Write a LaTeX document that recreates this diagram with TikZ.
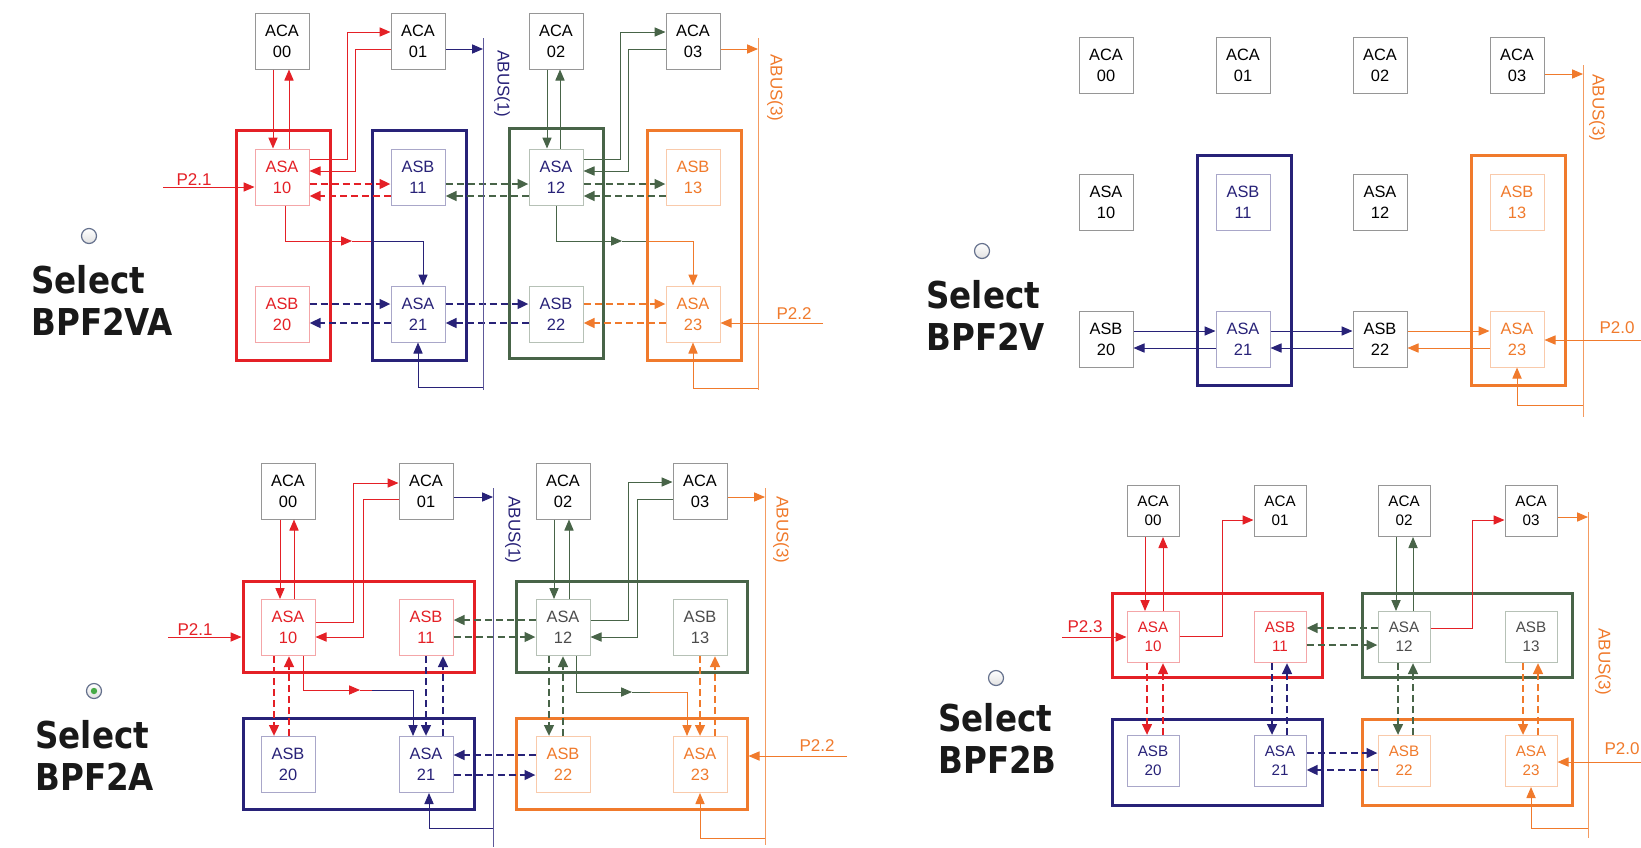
\documentclass[tikz,border=0pt]{standalone}
\usepackage{fontspec}
\setmainfont{Liberation Sans}
\newfontfamily\selfont[FakeStretch=0.88]{DejaVu Sans}
\usetikzlibrary{arrows.meta}

\definecolor{myred}{RGB}{228,32,38}
\definecolor{mynavy}{RGB}{40,34,120}
\definecolor{mygreen}{RGB}{72,100,72}
\definecolor{myorange}{RGB}{240,122,44}
\definecolor{boxgray}{RGB}{150,150,150}
\definecolor{radiogray}{RGB}{100,112,140}
\definecolor{radiogreen}{RGB}{70,170,70}

\tikzset{
  cell/.style={
    draw=boxgray,
    line width=0.5pt,
    fill=white,
    inner sep=0pt,
    minimum width=27pt,
    minimum height=28pt,
    align=center,
    font=\fontsize{8.2}{10.5}\selectfont
  },
  small cell/.style={
    cell,
    minimum width=26pt,
    minimum height=25.5pt,
    font=\fontsize{7.6}{9.6}\selectfont
  },
  tinted/.style={draw=#1!40, text=#1},
  group/.style={draw=#1, line width=1.5pt, inner sep=0pt},
  vgroup/.style={group=#1, minimum width=47pt, minimum height=115pt},
  hgroup/.style={group=#1, minimum width=115.5pt, minimum height=45.5pt},
  wire/.style={draw=#1, line width=0.5pt},
  link/.style={wire=#1, -{Triangle[length=5.5pt,width=4.6pt]}},
  dlink/.style={
    draw=#1,
    line width=1.25pt,
    dash pattern=on 3.5pt off 2pt,
    -{Triangle[length=5.5pt,width=4.8pt]}
  },
  bus/.style={draw=#1!75, line width=0.5pt},
  buslabel/.style={text=#1, rotate=-90, inner sep=0pt, font=\fontsize{8.5}{10}\selectfont},
  plabel/.style={text=#1, inner sep=0pt, font=\fontsize{8.5}{10}\selectfont},
  seltext/.style={
    anchor=north west,
    align=left,
    inner sep=0pt,
    text=black!90,
    font=\selfont\bfseries\fontsize{18.5}{21}\selectfont
  },
  radio/.style={
    circle,
    draw=radiogray,
    line width=0.6pt,
    minimum size=7.5pt,
    inner sep=0pt,
    top color=white,
    bottom color=black!12
  },
  radiodot/.style={circle, fill=radiogreen, minimum size=3.2pt, inner sep=0pt}
}

\begin{document}
\begin{tikzpicture}[x=0.5pt,y=-0.5pt]
  \useasboundingbox (0,0) rectangle (1641,847);

  % BPF2VA
  \node[radio] (vaRadio) at (89,236) {};
  \node[seltext] (vaSel) at (31,265) {Select\\BPF2VA};

  \node[vgroup=myred] (vaR) at (283.5,245.5) {};
  \node[vgroup=mynavy] (vaN) at (419.5,245.5) {};
  \node[vgroup=mygreen] (vaG) at (556.5,243) {};
  \node[vgroup=myorange] (vaO) at (694,245.5) {};

  \node[cell] (va00) at (282,41) {ACA\\00};
  \node[cell] (va01) at (418,41) {ACA\\01};
  \node[cell] (va02) at (556,41) {ACA\\02};
  \node[cell] (va03) at (693,41) {ACA\\03};
  \node[cell, tinted=myred] (va10) at (282,177) {ASA\\10};
  \node[cell, tinted=mynavy] (va11) at (418,177) {ASB\\11};
  \node[cell, tinted=mygreen, text=mynavy] (va12) at (556,177) {ASA\\12};
  \node[cell, tinted=myorange] (va13) at (693,177) {ASB\\13};
  \node[cell, tinted=myred] (va20) at (282,314) {ASB\\20};
  \node[cell, tinted=mynavy] (va21) at (418,314) {ASA\\21};
  \node[cell, tinted=mygreen, text=mynavy] (va22) at (556,314) {ASB\\22};
  \node[cell, tinted=myorange] (va23) at (693,314) {ASA\\23};

  \draw[link=myred] (va00.south -| 273,0) -- (va10.north -| 273,0);
  \draw[link=myred] (va10.north -| 289,0) -- (va00.south -| 289,0);
  \draw[link=myred] (va10.east |- 0,159) -| (347,32) -- (va01.west |- 0,32);
  \draw[link=myred] (va01.west |- 0,49) -| (355,171) -- (va10.east |- 0,171);
  \draw[dlink=myred] (va10.east |- 0,184) -- (va11.west |- 0,184);
  \draw[dlink=myred] (va11.west |- 0,196) -- (va10.east |- 0,196);
  \draw[dlink=mygreen] (va11.east |- 0,184) -- (va12.west |- 0,184);
  \draw[dlink=mygreen] (va12.west |- 0,196) -- (va11.east |- 0,196);
  \draw[link=mygreen] (va02.south -| 547,0) -- (va12.north -| 547,0);
  \draw[link=mygreen] (va12.north -| 560,0) -- (va02.south -| 560,0);
  \draw[link=mygreen] (va12.east |- 0,159) -| (620,32) -- (va03.west |- 0,32);
  \draw[link=mygreen] (va03.west |- 0,49) -| (628,171) -- (va12.east |- 0,171);
  \draw[dlink=mygreen] (va12.east |- 0,184) -- (va13.west |- 0,184);
  \draw[dlink=mygreen] (va13.west |- 0,196) -- (va12.east |- 0,196);
  \draw[dlink=mynavy] (va20.east |- 0,304) -- (va21.west |- 0,304);
  \draw[dlink=mynavy] (va21.west |- 0,323) -- (va20.east |- 0,323);
  \draw[dlink=mynavy] (va21.east |- 0,304) -- (va22.west |- 0,304);
  \draw[dlink=mynavy] (va22.west |- 0,323) -- (va21.east |- 0,323);
  \draw[dlink=myorange] (va22.east |- 0,304) -- (va23.west |- 0,304);
  \draw[dlink=myorange] (va23.west |- 0,323) -- (va22.east |- 0,323);

  \coordinate (vaJ1) at (352,241);
  \draw[link=myred] (va10.south -| 285,0) |- (vaJ1);
  \draw[wire=myred] (vaJ1) -- (vaN.west |- vaJ1);
  \draw[link=mynavy] (vaN.west |- vaJ1) -| (va21.north -| 423,0);
  \coordinate (vaJ2) at (622,241);
  \draw[link=mygreen] (va12.south) |- (vaJ2);
  \draw[wire=mygreen] (vaJ2) -- (vaO.west |- vaJ2);
  \draw[link=myorange] (vaO.west |- vaJ2) -| (va23.north);

  \coordinate (vaBus1Top) at (483,38);
  \coordinate (vaBus1Bot) at (483,390);
  \draw[bus=mynavy] (vaBus1Top) -- (vaBus1Bot);
  \draw[link=mynavy] (va01.east |- 0,49) -- (vaBus1Top |- 0,49);
  \draw[link=mynavy] (vaBus1Top |- 0,387) -| (va21.south);
  \node[buslabel=mynavy] (vaBus1Lbl) at (502,84) {ABUS(1)};
  \coordinate (vaBus3Top) at (758,38);
  \coordinate (vaBus3Bot) at (758,390);
  \draw[bus=myorange] (vaBus3Top) -- (vaBus3Bot);
  \draw[link=myorange] (va03.east |- 0,49) -- (vaBus3Top |- 0,49);
  \draw[link=myorange] (vaBus3Top |- 0,388) -| (va23.south);
  \node[buslabel=myorange] (vaBus3Lbl) at (775,88) {ABUS(3)};

  \coordinate (vaP21) at (163,187);
  \draw[link=myred] (vaP21) -- (va10.west |- vaP21);
  \node[plabel=myred] (vaP21Lbl) at (194,180) {P2.1};
  \coordinate (vaP22) at (823,323);
  \draw[link=myorange] (vaP22) -- (va23.east |- vaP22);
  \node[plabel=myorange] (vaP22Lbl) at (794,314) {P2.2};

  % BPF2V
  \node[radio] (vRadio) at (982,251) {};
  \node[seltext] (vSel) at (926,280) {Select\\BPF2V};

  \node[vgroup=mynavy] (vN) at (1244,270.5) {};
  \node[vgroup=myorange] (vO) at (1518.5,270.5) {};

  \node[cell] (v00) at (1106,65) {ACA\\00};
  \node[cell] (v01) at (1243,65) {ACA\\01};
  \node[cell] (v02) at (1380,65) {ACA\\02};
  \node[cell] (v03) at (1517,65) {ACA\\03};
  \node[cell] (v10) at (1106,202) {ASA\\10};
  \node[cell, tinted=mynavy] (v11) at (1243,202) {ASB\\11};
  \node[cell] (v12) at (1380,202) {ASA\\12};
  \node[cell, tinted=myorange] (v13) at (1517,202) {ASB\\13};
  \node[cell] (v20) at (1106,339) {ASB\\20};
  \node[cell, tinted=mynavy] (v21) at (1243,339) {ASA\\21};
  \node[cell] (v22) at (1380,339) {ASB\\22};
  \node[cell, tinted=myorange] (v23) at (1517,339) {ASA\\23};

  \draw[link=mynavy] (v20.east |- 0,331) -- (v21.west |- 0,331);
  \draw[link=mynavy] (v21.west |- 0,348) -- (v20.east |- 0,348);
  \draw[link=mynavy] (v21.east |- 0,331) -- (v22.west |- 0,331);
  \draw[link=mynavy] (v22.west |- 0,348) -- (v21.east |- 0,348);
  \draw[link=myorange] (v22.east |- 0,331) -- (v23.west |- 0,331);
  \draw[link=myorange] (v23.west |- 0,348) -- (v22.east |- 0,348);

  \coordinate (vBusTop) at (1583,65);
  \coordinate (vBusBot) at (1583,417);
  \draw[bus=myorange] (vBusTop) -- (vBusBot);
  \draw[link=myorange] (v03.east |- 0,74) -- (vBusTop |- 0,74);
  \draw[link=myorange] (vBusTop |- 0,405) -| (v23.south);
  \node[buslabel=myorange] (vBusLbl) at (1597,108) {ABUS(3)};
  \coordinate (vP20) at (1641,340);
  \draw[link=myorange] (vP20) -- (v23.east |- vP20);
  \node[plabel=myorange] (vP20Lbl) at (1617,328) {P2.0};

  % BPF2A
  \node[radio] (aRadio) at (94,691) {};
  \node[radiodot] (aDot) at (94,691) {};
  \node[seltext] (aSel) at (35,720) {Select\\BPF2A};

  \node[hgroup=myred] (aR) at (358.5,627) {};
  \node[hgroup=mynavy] (aN) at (358.5,764) {};
  \node[hgroup=mygreen] (aG) at (631.5,627) {};
  \node[hgroup=myorange] (aO) at (631.5,764) {};

  \node[cell] (a00) at (288,491) {ACA\\00};
  \node[cell] (a01) at (426,491) {ACA\\01};
  \node[cell] (a02) at (563,491) {ACA\\02};
  \node[cell] (a03) at (700,491) {ACA\\03};
  \node[cell, tinted=myred] (a10) at (288,627.5) {ASA\\10};
  \node[cell, tinted=myred] (a11) at (426,627.5) {ASB\\11};
  \node[cell, tinted=mygreen, text=black!70] (a12) at (563,627.5) {ASA\\12};
  \node[cell, tinted=mygreen, text=black!70] (a13) at (700,627.5) {ASB\\13};
  \node[cell, tinted=mynavy] (a20) at (288,764.5) {ASB\\20};
  \node[cell, tinted=mynavy] (a21) at (426,764.5) {ASA\\21};
  \node[cell, tinted=myorange] (a22) at (563,764.5) {ASB\\22};
  \node[cell, tinted=myorange] (a23) at (700,764.5) {ASA\\23};

  \draw[link=myred] (a00.south -| 280,0) -- (a10.north -| 280,0);
  \draw[link=myred] (a10.north -| 294,0) -- (a00.south -| 294,0);
  \draw[link=myred] (a10.east |- 0,622) -| (353,483) -- (a01.west |- 0,483);
  \draw[link=myred] (a01.west |- 0,499) -| (363,637) -- (a10.east |- 0,637);
  \draw[dlink=myred] (a10.south -| 274,0) -- (a20.north -| 274,0);
  \draw[dlink=myred] (a20.north -| 289,0) -- (a10.south -| 289,0);
  \draw[dlink=mynavy] (a11.south -| 426,0) -- (a21.north -| 426,0);
  \draw[dlink=mynavy] (a21.north -| 443,0) -- (a11.south -| 443,0);
  \draw[dlink=mygreen] (a12.west |- 0,620) -- (a11.east |- 0,620);
  \draw[dlink=mygreen] (a11.east |- 0,637) -- (a12.west |- 0,637);
  \draw[link=mygreen] (a02.south -| 554,0) -- (a12.north -| 554,0);
  \draw[link=mygreen] (a12.north -| 569,0) -- (a02.south -| 569,0);
  \draw[link=mygreen] (a12.east |- 0,620) -| (628,482) -- (a03.west |- 0,482);
  \draw[link=mygreen] (a03.west |- 0,499) -| (637,637) -- (a12.east |- 0,637);
  \draw[dlink=mygreen] (a12.south -| 549,0) -- (a22.north -| 549,0);
  \draw[dlink=mygreen] (a22.north -| 563,0) -- (a12.south -| 563,0);
  \draw[dlink=myorange] (a13.south -| 700,0) -- (a23.north -| 700,0);
  \draw[dlink=myorange] (a23.north -| 715,0) -- (a13.south -| 715,0);
  \draw[dlink=mynavy] (a22.west |- 0,755) -- (a21.east |- 0,755);
  \draw[dlink=mynavy] (a21.east |- 0,775) -- (a22.west |- 0,775);

  \coordinate (aJ1) at (360,690);
  \coordinate (aJ2) at (372,690);
  \draw[link=myred] (a10.south -| 303,0) |- (aJ1);
  \draw[wire=myred] (aJ1) -- (aJ2);
  \draw[link=mynavy] (aJ2) -| (a21.north -| 413,0);
  \coordinate (aJ3) at (632,692);
  \coordinate (aJ4) at (650,692);
  \draw[link=mygreen] (a12.south -| 576,0) |- (aJ3);
  \draw[wire=mygreen] (aJ3) -- (aJ4);
  \draw[link=myorange] (aJ4) -| (a23.north -| 687,0);

  \coordinate (aBus1Top) at (493,488);
  \coordinate (aBus1Bot) at (493,847);
  \draw[bus=mynavy] (aBus1Top) -- (aBus1Bot);
  \draw[link=mynavy] (a01.east |- 0,497) -- (aBus1Top |- 0,497);
  \draw[link=mynavy] (aBus1Top |- 0,828) -| (a21.south -| 429,0);
  \node[buslabel=mynavy] (aBus1Lbl) at (513,530) {ABUS(1)};
  \coordinate (aBus3Top) at (765,488);
  \coordinate (aBus3Bot) at (765,845);
  \draw[bus=myorange] (aBus3Top) -- (aBus3Bot);
  \draw[link=myorange] (a03.east |- 0,497) -- (aBus3Top |- 0,497);
  \draw[link=myorange] (aBus3Top |- 0,838) -| (a23.south);
  \node[buslabel=myorange] (aBus3Lbl) at (781,530) {ABUS(3)};

  \coordinate (aP21) at (168,637);
  \draw[link=myred] (aP21) -- (aR.west |- aP21);
  \node[plabel=myred] (aP21Lbl) at (195,630) {P2.1};
  \coordinate (aP22) at (847,756);
  \draw[link=myorange] (aP22) -- (aO.east |- aP22);
  \node[plabel=myorange] (aP22Lbl) at (817,746) {P2.2};

  % BPF2B
  \node[radio] (bRadio) at (996,678) {};
  \node[seltext] (bSel) at (938,703) {Select\\BPF2B};

  \node[hgroup=myred, minimum width=105pt, minimum height=42pt] (bR) at (1217,635.5) {};
  \node[hgroup=mynavy, minimum width=105pt, minimum height=43pt] (bN) at (1217,762) {};
  \node[hgroup=mygreen, minimum width=105pt, minimum height=42pt] (bG) at (1467,635.5) {};
  \node[hgroup=myorange, minimum width=105pt, minimum height=43pt] (bO) at (1467,762) {};

  \node[small cell] (b00) at (1153,511) {ACA\\00};
  \node[small cell] (b01) at (1280,511) {ACA\\01};
  \node[small cell] (b02) at (1404,511) {ACA\\02};
  \node[small cell] (b03) at (1531,511) {ACA\\03};
  \node[small cell, tinted=myred] (b10) at (1153,637) {ASA\\10};
  \node[small cell, tinted=myred] (b11) at (1280,637) {ASB\\11};
  \node[small cell, tinted=mygreen, text=black!70] (b12) at (1404,637) {ASA\\12};
  \node[small cell, tinted=mygreen, text=black!70] (b13) at (1531,637) {ASB\\13};
  \node[small cell, tinted=mynavy] (b20) at (1153,761) {ASB\\20};
  \node[small cell, tinted=mynavy] (b21) at (1280,761) {ASA\\21};
  \node[small cell, tinted=myorange] (b22) at (1404,761) {ASB\\22};
  \node[small cell, tinted=myorange] (b23) at (1531,761) {ASA\\23};

  \draw[link=myred] (b00.south -| 1145,0) -- (b10.north -| 1145,0);
  \draw[link=myred] (b10.north -| 1163,0) -- (b00.south -| 1163,0);
  \draw[link=myred] (b10.east |- 0,636) -| (1222,520) -- (b01.west |- 0,520);
  \draw[dlink=myred] (b10.south -| 1147,0) -- (b20.north -| 1147,0);
  \draw[dlink=myred] (b20.north -| 1163,0) -- (b10.south -| 1163,0);
  \draw[dlink=mynavy] (b11.south -| 1272,0) -- (b21.north -| 1272,0);
  \draw[dlink=mynavy] (b21.north -| 1287,0) -- (b11.south -| 1287,0);
  \draw[dlink=mygreen] (b12.west |- 0,628) -- (b11.east |- 0,628);
  \draw[dlink=mygreen] (b11.east |- 0,645) -- (b12.west |- 0,645);
  \draw[link=mygreen] (b02.south -| 1396,0) -- (b12.north -| 1396,0);
  \draw[link=mygreen] (b12.north -| 1413,0) -- (b02.south -| 1413,0);
  \draw[link=myred] (b12.east |- 0,628) -| (1472,520) -- (b03.west |- 0,520);
  \draw[dlink=mygreen] (b12.south -| 1398,0) -- (b22.north -| 1398,0);
  \draw[dlink=mygreen] (b22.north -| 1413,0) -- (b12.south -| 1413,0);
  \draw[dlink=myorange] (b13.south -| 1523,0) -- (b23.north -| 1523,0);
  \draw[dlink=myorange] (b23.north -| 1538,0) -- (b13.south -| 1538,0);
  \draw[dlink=mynavy] (b21.east |- 0,753) -- (b22.west |- 0,753);
  \draw[dlink=mynavy] (b22.west |- 0,770) -- (b21.east |- 0,770);

  \coordinate (bBusTop) at (1588,512);
  \coordinate (bBusBot) at (1588,838);
  \draw[bus=myorange] (bBusTop) -- (bBusBot);
  \draw[link=myorange] (b03.east |- 0,517) -- (bBusTop |- 0,517);
  \draw[link=myorange] (bBusTop |- 0,828) -| (b23.south);
  \node[buslabel=myorange] (bBusLbl) at (1603,662) {ABUS(3)};

  \coordinate (bP23) at (1062,637);
  \draw[link=myred] (bP23) -- (b10.west |- bP23);
  \node[plabel=myred] (bP23Lbl) at (1085,627) {P2.3};
  \coordinate (bP20) at (1641,762);
  \draw[link=myorange] (bP20) -- (b23.east |- bP20);
  \node[plabel=myorange] (bP20Lbl) at (1622,749) {P2.0};
\end{tikzpicture}
\end{document}
